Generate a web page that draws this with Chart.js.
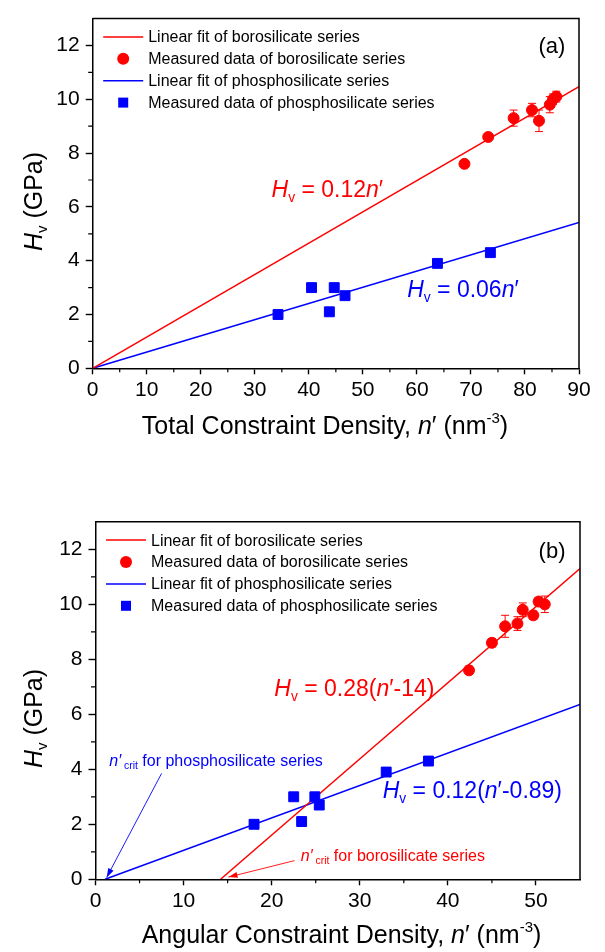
<!DOCTYPE html>
<html>
<head>
<meta charset="utf-8">
<script src="https://cdn.jsdelivr.net/npm/chart.js@4.4.1/dist/chart.umd.min.js"></script>
<style>
  body { margin: 0; background: #fff; }
  .panel { position: absolute; left: 0; }
</style>
</head>
<body>
<div class="panel" style="top:0"><canvas id="chartA" width="605" height="470"></canvas></div>
<div class="panel" style="top:470px"><canvas id="chartB" width="605" height="482"></canvas></div>
<script>
// panel (a): total constraint density
const boroXA = [68.8, 73.2, 77.9, 81.3, 82.6, 84.6, 85.2, 85.8];
const boroYA = [7.6, 8.6, 9.3, 9.6, 9.2, 9.8, 10.0, 10.1];
const boroErrA = [0.1, 0.1, 0.3, 0.25, 0.4, 0.3, 0.2, 0.2];
const phosXA = [34.3, 40.5, 43.8, 44.7, 46.7, 63.8, 73.6];
const phosYA = [2.0, 3.0, 2.1, 3.0, 2.7, 3.9, 4.3];
const boroFitXA = [0, 90];
const boroFitYA = [0, 10.47];
const phosFitXA = [0, 90];
const phosFitYA = [0, 5.42];

// panel (b): angular constraint density
const boroXB = [42.4, 45.0, 46.5, 47.9, 48.5, 49.7, 50.3, 51.0];
const boroYB = [7.6, 8.6, 9.2, 9.3, 9.8, 9.6, 10.1, 10.0];
const boroErrB = [0.15, 0.15, 0.4, 0.25, 0.25, 0.15, 0.15, 0.3];
const phosXB = [18.0, 22.5, 23.4, 24.9, 25.4, 33.0, 37.8];
const phosYB = [2.0, 3.0, 2.1, 3.0, 2.7, 3.9, 4.3];
const boroFitXB = [14.2, 55];
const boroFitYB = [0, 11.3];
const phosFitXB = [1.08, 55];
const phosFitYB = [0, 6.36];

const xTicksA = [0, 90, 10];   // min, max, step
const xTicksB = [0, 55, 10];
const yTicks = [0, 13, 2];

const RED = "#ff0000";
const BLUE = "#0000ff";
const FONT = '"Liberation Sans", Arial, Helvetica, sans-serif';

function font(size, italic) {
  return (italic ? "italic " : "") + size + "px " + FONT;
}

function pts(xs, ys) {
  return xs.map((x, i) => ({ x: x, y: ys[i] }));
}

function richWidth(ctx, runs, size) {
  let w = 0;
  runs.forEach((r) => {
    ctx.font = font(size * (r.s || 1), r.i);
    w += ctx.measureText(r.t).width;
  });
  return w;
}

function drawRich(ctx, runs, x, y, size, color, align) {
  let cx = align === "center" ? x - richWidth(ctx, runs, size) / 2 : x;
  ctx.fillStyle = color;
  ctx.textAlign = "left";
  ctx.textBaseline = "alphabetic";
  runs.forEach((r) => {
    ctx.font = font(size * (r.s || 1), r.i);
    ctx.fillText(r.t, cx, y + (r.dy || 0) * size);
    cx += ctx.measureText(r.t).width;
  });
}

const HV = [{ t: "H", i: 1 }, { t: "v", s: 0.6, dy: 0.2 }];

// extra drawing: frame, minor ticks, error bars, legend, labels, arrows
const decor = {
  id: "decor",
  beforeDatasetsDraw(chart) {
    const o = chart.options.plugins.decor;
    const ctx = chart.ctx;
    const xs = chart.scales.x, ys = chart.scales.y;
    ctx.save();
    o.errors.forEach((e) => {
      ctx.strokeStyle = e.color;
      ctx.lineWidth = 1;
      e.x.forEach((xv, i) => {
        const px = xs.getPixelForValue(xv);
        const top = ys.getPixelForValue(e.y[i] + e.err[i]);
        const bot = ys.getPixelForValue(e.y[i] - e.err[i]);
        ctx.beginPath();
        ctx.moveTo(px, top); ctx.lineTo(px, bot);
        ctx.moveTo(px - 4, top); ctx.lineTo(px + 4, top);
        ctx.moveTo(px - 4, bot); ctx.lineTo(px + 4, bot);
        ctx.stroke();
      });
    });
    ctx.restore();
  },
  afterDraw(chart) {
    const o = chart.options.plugins.decor;
    const ctx = chart.ctx;
    const a = chart.chartArea;
    const xs = chart.scales.x, ys = chart.scales.y;
    ctx.save();

    // top and right frame
    ctx.strokeStyle = "#000";
    ctx.lineWidth = 1.5;
    ctx.beginPath();
    ctx.moveTo(a.left, a.top); ctx.lineTo(a.right, a.top); ctx.lineTo(a.right, a.bottom);
    ctx.stroke();

    // minor ticks
    ctx.lineWidth = 1.2;
    ctx.beginPath();
    for (let v = xs.min + o.minorX; v < xs.max; v += 2 * o.minorX) {
      const px = xs.getPixelForValue(v);
      ctx.moveTo(px, a.bottom); ctx.lineTo(px, a.bottom + 4);
    }
    for (let v = ys.min + o.minorY; v < ys.max; v += 2 * o.minorY) {
      const py = ys.getPixelForValue(v);
      ctx.moveTo(a.left, py); ctx.lineTo(a.left - 4.5, py);
    }
    ctx.stroke();

    // legend
    o.legend.forEach((it, k) => {
      const y = a.top + 18.3 + k * 21.9;
      const x0 = a.left + 10.5;
      if (it.kind === "line") {
        ctx.strokeStyle = it.color;
        ctx.lineWidth = 1.5;
        ctx.beginPath(); ctx.moveTo(x0, y); ctx.lineTo(x0 + 40, y); ctx.stroke();
      } else if (it.kind === "circle") {
        ctx.fillStyle = it.color;
        ctx.beginPath(); ctx.arc(x0 + 20, y, 6, 0, Math.PI * 2); ctx.fill();
      } else {
        ctx.fillStyle = it.color;
        ctx.fillRect(x0 + 15, y - 5, 10, 10);
      }
      ctx.fillStyle = "#000";
      ctx.font = font(16);
      ctx.textAlign = "left";
      ctx.textBaseline = "middle";
      ctx.fillText(it.text, a.left + 55.5, y + 1);
    });

    // arrows
    o.arrows.forEach((ar) => {
      const x1 = xs.getPixelForValue(ar.from[0]), y1 = ys.getPixelForValue(ar.from[1]);
      const x2 = xs.getPixelForValue(ar.to[0]), y2 = ys.getPixelForValue(ar.to[1]);
      const ang = Math.atan2(y2 - y1, x2 - x1);
      ctx.strokeStyle = ar.color;
      ctx.fillStyle = ar.color;
      ctx.lineWidth = 0.9;
      ctx.beginPath(); ctx.moveTo(x1, y1); ctx.lineTo(x2, y2); ctx.stroke();
      ctx.beginPath();
      ctx.moveTo(x2, y2);
      ctx.lineTo(x2 - 9 * Math.cos(ang) + 3 * Math.sin(ang), y2 - 9 * Math.sin(ang) - 3 * Math.cos(ang));
      ctx.lineTo(x2 - 9 * Math.cos(ang) - 3 * Math.sin(ang), y2 - 9 * Math.sin(ang) + 3 * Math.cos(ang));
      ctx.closePath();
      ctx.fill();
    });

    // labels placed at data positions
    o.labels.forEach((lb) => {
      const px = xs.getPixelForValue(lb.x);
      const py = ys.getPixelForValue(lb.y) + 0.36 * lb.size;
      drawRich(ctx, lb.runs, px, py, lb.size, lb.color, "left");
    });

    // axis titles
    drawRich(ctx, o.xTitle.runs, o.xTitle.cx, o.xTitle.base, 25, "#000", "center");
    ctx.translate(o.yTitle.base, o.yTitle.cy);
    ctx.rotate(-Math.PI / 2);
    drawRich(ctx, o.yTitle.runs, 0, 0, 25, "#000", "center");
    ctx.restore();
  }
};

function axisX(t, h) {
  return {
    type: "linear",
    min: t[0], max: t[1],
    ticks: {
      stepSize: t[2], includeBounds: false, autoSkip: false, maxRotation: 0,
      color: "#000", padding: 3, font: { family: FONT, size: 21 }
    },
    grid: { drawOnChartArea: false, tickLength: 6, color: "#000", tickWidth: 1.4 },
    border: { display: true, color: "#000", width: 1.5 },
    afterFit(s) { s.height = h; }
  };
}

function axisY(t, w) {
  return {
    type: "linear",
    min: t[0], max: t[1],
    ticks: {
      stepSize: t[2], includeBounds: false, autoSkip: false,
      color: "#000", padding: 6, font: { family: FONT, size: 21 }
    },
    grid: { drawOnChartArea: false, tickLength: 7, color: "#000", tickWidth: 1.4 },
    border: { display: true, color: "#000", width: 1.5 },
    afterFit(s) { s.width = w; }
  };
}

function datasets(bx, by, px, py, bfx, bfy, pfx, pfy) {
  return [
    { data: pts(bfx, bfy), showLine: true, borderColor: RED, borderWidth: 1.5, pointRadius: 0, order: 2 },
    { data: pts(bx, by), pointStyle: "circle", pointRadius: 5.5, borderWidth: 1, borderColor: RED, backgroundColor: RED, order: 0 },
    { data: pts(pfx, pfy), showLine: true, borderColor: BLUE, borderWidth: 1.5, pointRadius: 0, order: 2 },
    { data: pts(px, py), pointStyle: "rect", pointRadius: 7, borderWidth: 1, borderColor: BLUE, backgroundColor: BLUE, order: 0 }
  ];
}

const legendItems = [
  { kind: "line", color: RED, text: "Linear fit of borosilicate series" },
  { kind: "circle", color: RED, text: "Measured data of borosilicate series" },
  { kind: "line", color: BLUE, text: "Linear fit of phosphosilicate series" },
  { kind: "rect", color: BLUE, text: "Measured data of phosphosilicate series" }
];

function baseOptions(pad, xAxis, yAxis, decorOpts) {
  return {
    responsive: false,
    animation: false,
    devicePixelRatio: 1,
    events: [],
    layout: { padding: pad },
    scales: { x: xAxis, y: yAxis },
    plugins: { legend: { display: false }, tooltip: { enabled: false }, decor: decorOpts }
  };
}

new Chart(document.getElementById("chartA"), {
  type: "scatter",
  data: { datasets: datasets(boroXA, boroYA, phosXA, phosYA, boroFitXA, boroFitYA, phosFitXA, phosFitYA) },
  options: baseOptions(
    { top: 10, right: 26, left: 0, bottom: 0 },
    axisX(xTicksA, 101.7),
    axisY(yTicks, 92.7),
    {
      minorX: 5, minorY: 1,
      errors: [{ x: boroXA, y: boroYA, err: boroErrA, color: RED }],
      legend: legendItems,
      arrows: [],
      labels: [
        { x: 33.1, y: 6.67, size: 23, color: RED, runs: HV.concat([{ t: " = 0.12" }, { t: "n", i: 1 }, { t: "′" }]) },
        { x: 58.2, y: 2.96, size: 23, color: BLUE, runs: HV.concat([{ t: " = 0.06" }, { t: "n", i: 1 }, { t: "′" }]) },
        { x: 82.5, y: 12.0, size: 22, color: "#000", runs: [{ t: "(a)" }] }
      ],
      xTitle: { cx: 325, base: 434, runs: [{ t: "Total Constraint Density, " }, { t: "n", i: 1 }, { t: "′" }, { t: " (nm" }, { t: "-3", s: 0.6, dy: -0.45 }, { t: ")" }] },
      yTitle: { base: 41.5, cy: 201.5, runs: HV.concat([{ t: " (GPa)" }]) }
    }
  ),
  plugins: [decor]
});

new Chart(document.getElementById("chartB"), {
  type: "scatter",
  data: { datasets: datasets(boroXB, boroYB, phosXB, phosYB, boroFitXB, boroFitYB, phosFitXB, phosFitYB) },
  options: baseOptions(
    { top: 51.8, right: 25, left: 0, bottom: 0 },
    axisX(xTicksB, 72.7),
    axisY(yTicks, 95.5),
    {
      minorX: 5, minorY: 1,
      errors: [{ x: boroXB, y: boroYB, err: boroErrB, color: RED }],
      legend: legendItems,
      arrows: [
        { from: [7.5, 3.85], to: [1.27, 0.07], color: BLUE },
        { from: [22.6, 0.68], to: [15.1, 0.08], color: RED }
      ],
      labels: [
        { x: 20.3, y: 6.95, size: 23, color: RED, runs: HV.concat([{ t: " = 0.28(" }, { t: "n", i: 1 }, { t: "′-14)" }]) },
        { x: 32.6, y: 3.25, size: 23, color: BLUE, runs: HV.concat([{ t: " = 0.12(" }, { t: "n", i: 1 }, { t: "′-0.89)" }]) },
        { x: 50.3, y: 11.97, size: 22, color: "#000", runs: [{ t: "(b)" }] },
        { x: 1.56, y: 4.34, size: 16, color: BLUE, runs: [{ t: "n′", i: 1 }, { t: " crit", s: 0.65, dy: 0.2 }, { t: " for phosphosilicate series" }] },
        { x: 23.3, y: 0.88, size: 16, color: RED, runs: [{ t: "n′", i: 1 }, { t: " crit", s: 0.65, dy: 0.2 }, { t: " for borosilicate series" }] }
      ],
      xTitle: { cx: 341.5, base: 473, runs: [{ t: "Angular Constraint Density, " }, { t: "n", i: 1 }, { t: "′" }, { t: " (nm" }, { t: "-3", s: 0.6, dy: -0.45 }, { t: ")" }] },
      yTitle: { base: 41.5, cy: 248.5, runs: HV.concat([{ t: " (GPa)" }]) }
    }
  ),
  plugins: [decor]
});
</script>
</body>
</html>
